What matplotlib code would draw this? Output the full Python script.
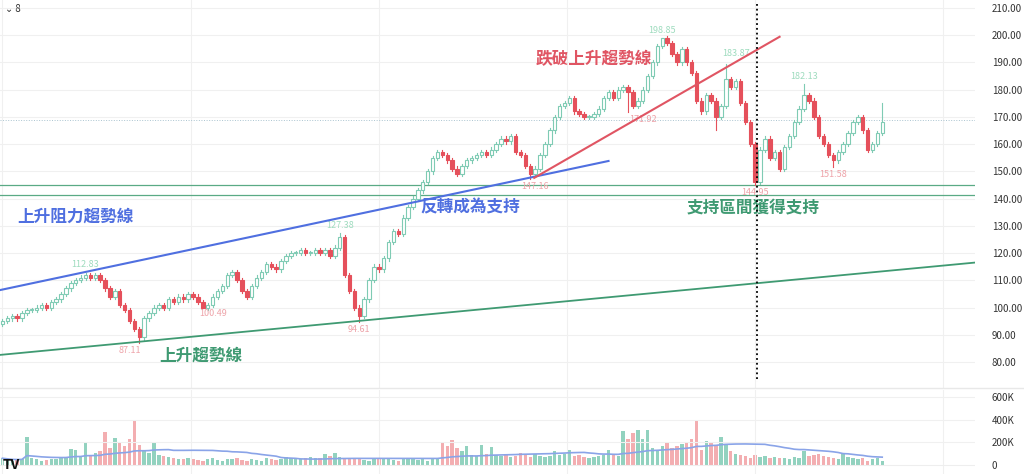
import matplotlib.pyplot as plt
import numpy as np
from matplotlib.patches import Rectangle

plt.rcParams['font.family'] = ['Noto Sans CJK TC', 'DejaVu Sans']

closes = [95, 96, 97, 96, 98, 99, 99, 100, 101, 100,
          102, 103, 105, 107, 109, 110, 111, 112, 111, 112,
          110, 107, 104, 106, 101, 99, 95, 92, 89, 96,
          98, 100, 101, 100, 103, 102, 104, 103, 105, 104,
          102, 100, 101, 104, 106, 108, 112, 113, 110, 106,
          104, 108, 111, 113, 116, 115, 114, 117, 119, 120,
          120, 121, 120, 120, 121, 120, 121, 119, 122, 126,
          112, 106, 100, 97, 103, 110, 115, 114, 118, 124,
          128, 127, 133, 137, 140, 143, 146, 150, 155, 157,
          156, 154, 151, 149, 152, 154, 155, 156, 157, 156,
          158, 160, 162, 161, 163, 157, 156, 152, 149, 151,
          156, 160, 165, 170, 174, 175, 177, 172, 171, 170,
          170, 171, 173, 177, 179, 177, 180, 181, 179, 174,
          176, 180, 185, 190, 196, 199, 197, 193, 190, 195,
          190, 186, 176, 172, 178, 176, 170, 174, 184, 181,
          183, 175, 168, 160, 146, 158, 162, 155, 157, 151,
          159, 163, 168, 173, 178, 176, 170, 163, 160, 156,
          154, 157, 160, 164, 168, 170, 165, 158, 160, 164, 168]
first_open = 94
# candles with longer wicks: index -> value
special_highs = {17: 112.83, 69: 127.38, 135: 198.85, 148: 189.5, 164: 182.13, 180: 175}
special_lows = {28: 87.11, 41: 100.49, 73: 94.61, 108: 147.16, 128: 171.92,
                146: 165, 154: 144.95, 170: 151.58}

volumes = [60, 50, 40, 45, 55, 250, 60, 50, 40, 45,
           50, 55, 60, 70, 140, 130, 80, 200, 90, 110,
           120, 290, 150, 240, 200, 170, 230, 400, 180, 120,
           110, 200, 90, 80, 70, 60, 55, 50, 60, 50,
           45, 40, 50, 60, 45, 40, 50, 55, 60, 45,
           40, 50, 45, 40, 60, 50, 45, 55, 70, 60,
           50, 55, 60, 70, 60, 65, 100, 80, 110, 70,
           60, 50, 60, 55, 45, 40, 50, 60, 60, 50,
           45, 40, 50, 55, 60, 45, 50, 40, 60, 50,
           200, 170, 220, 150, 120, 170, 90, 80, 180, 100,
           160, 90, 80, 100, 70, 80, 110, 90, 70, 100,
           80, 70, 80, 120, 90, 100, 130, 80, 90, 70,
           60, 70, 80, 90, 130, 100, 80, 300, 230, 280,
           310, 230, 310, 150, 120, 170, 200, 150, 170, 190,
           200, 230, 400, 130, 210, 200, 180, 250, 180, 120,
           100, 90, 80, 60, 90, 70, 80, 60, 70, 60,
           60, 50, 70, 60, 120, 80, 90, 100, 80, 70,
           60, 50, 110, 70, 60, 50, 60, 40, 50, 60, 40]

up_color = '#7fcbb4'
down_color = '#e5505b'

n = len(closes)
opens = [first_open] + closes[:-1]
x = np.arange(n)

fig = plt.figure(figsize=(10.24, 4.74), dpi=100)
ax = fig.add_axes([0, 1 - 388 / 474, 975 / 1024, 388 / 474])
axv = fig.add_axes([0, 0, 975 / 1024, 84 / 474])

xmax = 975 / 4.9
for a in (ax, axv):
    a.set_xlim(-0.5, xmax)
    a.yaxis.tick_right()
    a.tick_params(axis='y', length=0, labelsize=7, colors='#333333', pad=12)
    a.set_xticks(np.arange(0, xmax, 38.5))
    a.tick_params(axis='x', length=0, labelbottom=False)
    a.grid(True, color='#f0f0f0', linewidth=0.8)
    for s in a.spines.values():
        s.set_visible(False)

ax.set_ylim(70.45, 212.9)
ax.set_yticks(np.arange(80, 211, 10))
ax.set_yticklabels([f"{v:.2f}" for v in np.arange(80, 211, 10)])

for i in range(n):
    o, c = opens[i], closes[i]
    col = up_color if c >= o else down_color
    hi = special_highs.get(i, max(o, c) + 0.8)
    lo = special_lows.get(i, min(o, c) - 0.8)
    ax.plot([i, i], [lo, hi], color=col, linewidth=0.8, zorder=3)
    body = max(abs(c - o), 0.3)
    rect = Rectangle((i - 0.35, min(o, c)), 0.7, body, facecolor='white' if c >= o else col,
                     edgecolor=col, linewidth=0.8, zorder=4)
    ax.add_patch(rect)

# trend lines
ax.plot([-0.5, 124], [106.4, 153.8], color='#4f6fe0', linewidth=1.5, zorder=5)
ax.plot([-0.5, xmax], [82.6, 116.5], color='#3f9a72', linewidth=1.3, zorder=5)
ax.plot([108.8, 159], [147.6, 199.4], color='#e05563', linewidth=1.5, zorder=5)
ax.axhline(145.0, color='#5aaa85', linewidth=0.9, zorder=2)
ax.axhline(141.3, color='#5aaa85', linewidth=0.9, zorder=2)
ax.axhline(169.0, color='#aac4d0', linewidth=0.7, linestyle=':', zorder=2)

# vertical marker
fig.add_artist(plt.Line2D([757 / 1024, 757 / 1024], [1 - 4 / 474, 1 - 382 / 474],
                          color='black', linestyle=':', linewidth=1.3))

# price labels
hi_labels = [(17, 112.83), (69, 127.38), (135, 198.85), (150, 183.87), (164, 182.13)]
lo_labels = [(26, 87.11), (43, 100.49), (73, 94.61), (109, 147.16), (131, 171.92),
             (154, 144.95), (170, 151.58)]
for i, v in hi_labels:
    ax.text(i, v + 1.2 if i != 150 else 191.5, f"{v:.2f}", color='#9fdcbf', fontsize=6.5,
            ha='center', va='bottom')
for i, v in lo_labels:
    ax.text(i, v - 1.2, f"{v:.2f}", color='#eea3a9', fontsize=6.5, ha='center', va='top')

big = dict(fontsize=12, fontweight='bold')
ax.text(3, 131.5, "上升阻力趨勢線", color='#4f6fe0', **big)
ax.text(32, 80.5, "上升趨勢線", color='#3f9a72', **big)
ax.text(85.5, 135.0, "反轉成為支持", color='#4f6fe0', **big)
ax.text(109, 189.5, "跌破上升趨勢線", color='#e05563', **big)
ax.text(140, 135.0, "支持區間獲得支持", color='#3f9a72', **big)

# volume pane
vcols = [up_color if closes[i] >= opens[i] else '#f1a0a4' for i in range(n)]
axv.bar(x, volumes, width=0.7, color=vcols, alpha=0.85)
vma = np.convolve(volumes, np.ones(30) / 30, mode='full')[:n]
vma[:30] = np.cumsum(volumes[:30]) / np.arange(1, 31)
axv.plot(x, vma, color='#8aa4e8', linewidth=1.2)
axv.set_ylim(-79, 662)
axv.set_yticks([0, 200, 400, 600])
axv.set_yticklabels(['0', '200K', '400K', '600K'])
axv.axhline(0, color='#eeeeee', linewidth=0.5)
fig.add_artist(plt.Line2D([0, 1], [1 - 388 / 474] * 2, color='#e8e8e8', linewidth=1))

fig.text(0.005, 0.975, "⌄ 8", fontsize=7, color='#333333')
fig.text(0.003, 0.01, "TV", fontsize=10, fontweight='bold', color='#111111')

fig.savefig("out.png", dpi=100)
